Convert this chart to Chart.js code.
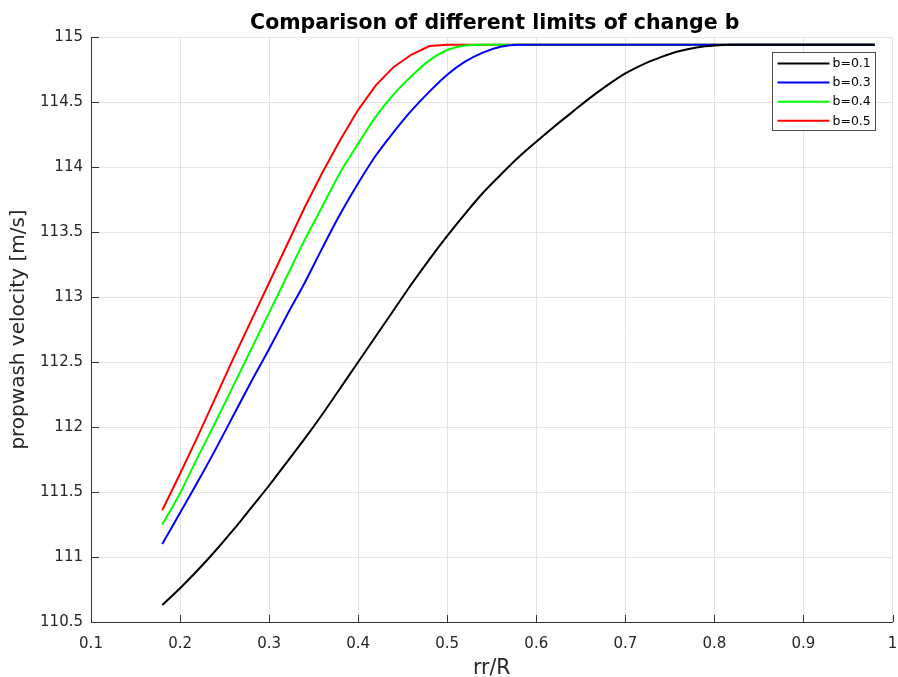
<!DOCTYPE html>
<html>
<head>
<meta charset="utf-8">
<script src="https://cdn.jsdelivr.net/npm/chart.js@4/dist/chart.umd.min.js"></script>
<style>
  html, body { margin: 0; padding: 0; background: #fff; }
  canvas { display: block; }
</style>
</head>
<body>
<canvas id="velocityChart" width="898" height="677"></canvas>
<script>
// rr/R sample positions shared by every curve
const rRatio = [0.18, 0.20, 0.22, 0.24, 0.26, 0.28, 0.30, 0.32, 0.34, 0.36,
                0.38, 0.40, 0.42, 0.44, 0.46, 0.48, 0.50, 0.52, 0.54, 0.56,
                0.58, 0.60, 0.62, 0.64, 0.66, 0.68, 0.70, 0.72, 0.74, 0.76,
                0.78, 0.80, 0.82, 0.84, 0.86, 0.88, 0.90, 0.92, 0.94, 0.96, 0.98];

// propwash velocity [m/s] for each limit b
const velB01 = [110.63, 110.76, 110.90, 111.05, 111.21, 111.38, 111.55, 111.73, 111.91, 112.10,
                112.30, 112.50, 112.70, 112.90, 113.10, 113.29, 113.47, 113.64, 113.80, 113.94,
                114.075, 114.195, 114.31, 114.42, 114.53, 114.63, 114.72, 114.79, 114.845, 114.89,
                114.92, 114.935, 114.94, 114.94, 114.94, 114.94, 114.94, 114.94, 114.94, 114.94, 114.94];
const velB03 = [111.10, 111.34, 111.58, 111.83, 112.09, 112.35, 112.60, 112.86, 113.11, 113.38,
                113.64, 113.875, 114.09, 114.27, 114.435, 114.58, 114.71, 114.81, 114.88, 114.925,
                114.94, 114.94, 114.94, 114.94, 114.94, 114.94, 114.94, 114.94, 114.94, 114.94,
                114.94, 114.94, 114.94, 114.94, 114.94, 114.94, 114.94, 114.94, 114.94, 114.94, 114.94];
const velB04 = [111.25, 111.49, 111.77, 112.04, 112.32, 112.60, 112.88, 113.16, 113.44, 113.70,
                113.96, 114.18, 114.39, 114.56, 114.70, 114.82, 114.90, 114.935, 114.94, 114.94,
                114.94, 114.94, 114.94, 114.94, 114.94, 114.94, 114.94, 114.94, 114.94, 114.94,
                114.94, 114.94, 114.94, 114.94, 114.94, 114.94, 114.94, 114.94, 114.94, 114.94, 114.94];
const velB05 = [111.36, 111.64, 111.93, 112.23, 112.53, 112.82, 113.11, 113.40, 113.69, 113.96,
                114.21, 114.44, 114.63, 114.77, 114.865, 114.93, 114.94, 114.94, 114.94, 114.94,
                114.94, 114.94, 114.94, 114.94, 114.94, 114.94, 114.94, 114.94, 114.94, 114.94,
                114.94, 114.94, 114.94, 114.94, 114.94, 114.94, 114.94, 114.94, 114.94, 114.94, 114.94];

const seriesLabels = ['b=0.1', 'b=0.3', 'b=0.4', 'b=0.5'];
const seriesColors = ['#000000', '#0000ff', '#00ff00', '#ff0000'];

const FONT = 'DejaVu Sans';
const TEXT_COLOR = '#262626';
const AXIS_COLOR = '#333333';

function toPoints(values) {
    return rRatio.map((r, i) => ({ x: r, y: values[i] }));
}

function fmtTick(v) {
    return String(Number(v.toFixed(2)));
}

// title, inward tick marks and the boxed legend, MATLAB style
const figureDecor = {
    id: 'figureDecor',
    afterDraw(chart) {
        const { ctx, chartArea: area, scales } = chart;
        ctx.save();

        ctx.fillStyle = '#000';
        ctx.font = `bold 20.5px "${FONT}"`;
        ctx.textAlign = 'center';
        ctx.textBaseline = 'alphabetic';
        ctx.fillText('Comparison of different limits of change b', (area.left + area.right) / 2 + 3, 28.5);

        ctx.strokeStyle = AXIS_COLOR;
        ctx.lineWidth = 1;
        ctx.beginPath();
        scales.x.ticks.forEach(t => {
            const px = Math.round(scales.x.getPixelForValue(t.value)) + 0.5;
            ctx.moveTo(px, area.bottom);
            ctx.lineTo(px, area.bottom - 7);
        });
        scales.y.ticks.forEach(t => {
            const py = Math.round(scales.y.getPixelForValue(t.value)) + 0.5;
            ctx.moveTo(area.left, py);
            ctx.lineTo(area.left + 8, py);
        });
        ctx.stroke();

        const boxW = 103, boxH = 78;
        const boxX = Math.round(area.right - 121) + 0.5;
        const boxY = Math.round(area.top + 15) + 0.5;
        ctx.fillStyle = '#fff';
        ctx.fillRect(boxX, boxY, boxW, boxH);
        ctx.strokeStyle = '#4d4d4d';
        ctx.strokeRect(boxX, boxY, boxW, boxH);

        ctx.font = `12.5px "${FONT}"`;
        ctx.textAlign = 'left';
        ctx.textBaseline = 'middle';
        chart.data.datasets.forEach((ds, i) => {
            const rowY = boxY + 11 + i * 19.1;
            ctx.strokeStyle = ds.borderColor;
            ctx.lineWidth = 2;
            ctx.beginPath();
            ctx.moveTo(boxX + 5, rowY);
            ctx.lineTo(boxX + 57, rowY);
            ctx.stroke();
            ctx.fillStyle = '#000';
            ctx.fillText(ds.label, boxX + 60, rowY + 0.5);
        });

        ctx.restore();
    }
};

const ctx = document.getElementById('velocityChart').getContext('2d');
const velocityChart = new Chart(ctx, {
    type: 'line',
    data: {
        datasets: [velB01, velB03, velB04, velB05].map((vals, i) => ({
            label: seriesLabels[i],
            data: toPoints(vals),
            borderColor: seriesColors[i],
            backgroundColor: seriesColors[i],
            borderWidth: 2,
            pointRadius: 0,
            // the b=0.5 curve keeps its straight segments near the plateau
            cubicInterpolationMode: i === 3 ? 'default' : 'monotone',
            tension: 0,
            fill: false
        }))
    },
    options: {
        responsive: false,
        animation: false,
        devicePixelRatio: 1,
        layout: { padding: { top: 37, right: 5.5, left: 0, bottom: 0 } },
        plugins: {
            legend: { display: false },
            title: { display: false },
            tooltip: { enabled: false }
        },
        scales: {
            x: {
                type: 'linear',
                min: 0.1,
                max: 1,
                afterFit: s => { s.height = 55; s.paddingLeft = 0; s.paddingRight = 0; },
                ticks: {
                    stepSize: 0.1,
                    padding: 13,
                    color: TEXT_COLOR,
                    font: { family: FONT, size: 15 },
                    callback: fmtTick
                },
                grid: { color: '#e3e3e3', drawTicks: false },
                border: { color: AXIS_COLOR, width: 1 },
                title: {
                    display: true,
                    text: 'rr/R',
                    color: TEXT_COLOR,
                    font: { family: FONT, size: 20.5, lineHeight: 0.8 },
                    padding: { top: 0, bottom: 0 }
                }
            },
            y: {
                min: 110.5,
                max: 115,
                afterFit: s => { s.width = 91; s.paddingTop = 0; s.paddingBottom = 0; },
                ticks: {
                    stepSize: 0.5,
                    padding: 8,
                    color: TEXT_COLOR,
                    font: { family: FONT, size: 15 },
                    callback: fmtTick
                },
                grid: { color: '#e3e3e3', drawTicks: false },
                border: { color: AXIS_COLOR, width: 1 },
                title: {
                    display: true,
                    text: 'propwash velocity [m/s]',
                    color: TEXT_COLOR,
                    font: { family: FONT, size: 20 },
                    padding: { top: 7, bottom: 0 }
                }
            }
        }
    },
    plugins: [figureDecor]
});
</script>
</body>
</html>
